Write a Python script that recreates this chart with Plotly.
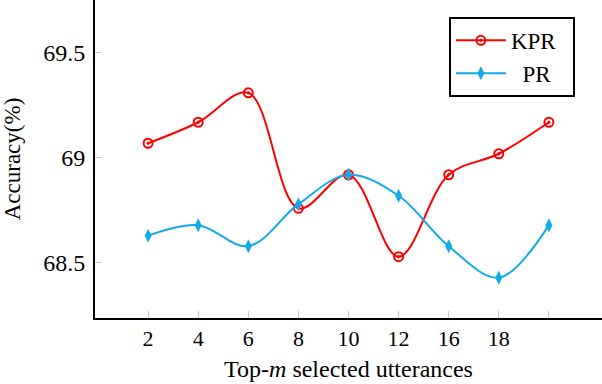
import plotly.graph_objects as go

# Данные
top_m = ["2", "4", "6", "8", "10", "12", "16", "18", ""]
kpr = [69.07, 69.17, 69.31, 68.76, 68.92, 68.53, 68.92, 69.02, 69.17]
pr = [68.63, 68.68, 68.58, 68.78, 68.92, 68.82, 68.58, 68.43, 68.68]

x = list(range(len(top_m)))
font = "Liberation Serif, Times New Roman, serif"

fig = go.Figure()

fig.add_trace(go.Scatter(x=x, y=kpr, mode='lines+markers', name='KPR\u2002',
                         legendgroup='a',
                         line=dict(color='#ff0000', width=2, shape='spline', smoothing=1.0),
                         marker=dict(symbol='circle-open-dot', size=9, color='#ff0000',
                                     line=dict(width=2, color='#ff0000'))))
fig.add_trace(go.Scatter(x=x, y=pr, mode='lines+markers', name='\u2002PR\u2002',
                         legendgroup='b',
                         line=dict(color='#12aae8', width=2, shape='spline', smoothing=1.0),
                         marker=dict(symbol='diamond-tall', size=10, color='#12aae8')))

fig.update_layout(width=602, height=384,
                  margin=dict(l=95, r=0, t=0, b=66),
                  paper_bgcolor='white', plot_bgcolor='white',
                  font=dict(family=font, size=22, color='black'),
                  showlegend=True,
                  legend=dict(x=0.698, y=0.947, xanchor='left', yanchor='top',
                              bordercolor='black', borderwidth=2, bgcolor='white',
                              font=dict(family=font, size=23), itemwidth=50,
                              tracegroupgap=0))

fig.update_xaxes(range=[-1.06, 9.06], tickmode='array', tickvals=x, ticktext=top_m,
                 showgrid=False, zeroline=False, showline=True, linecolor='black',
                 linewidth=2, ticks='inside', ticklen=7, tickcolor='#c8c8c8', tickwidth=1,
                 tickfont=dict(family=font, size=22), automargin=False,
                 title=dict(text='Top-<i>m</i> selected utterances',
                            font=dict(family=font, size=24), standoff=10))
fig.update_yaxes(range=[68.238, 69.752], tickvals=[68.5, 69, 69.5],
                 ticktext=['68.5', '69', '69.5'],
                 showgrid=False, zeroline=False, showline=True, linecolor='black',
                 linewidth=2, ticks='inside', ticklen=7, tickcolor='#c8c8c8', tickwidth=1,
                 tickfont=dict(family=font, size=24), ticklabelstandoff=3,
                 automargin=False,
                 title=dict(text='Accuracy(%)', font=dict(family=font, size=23), standoff=17))

fig.write_html("out.html", config={'displayModeBar': False},
               post_script="document.body.style.margin='0';")
